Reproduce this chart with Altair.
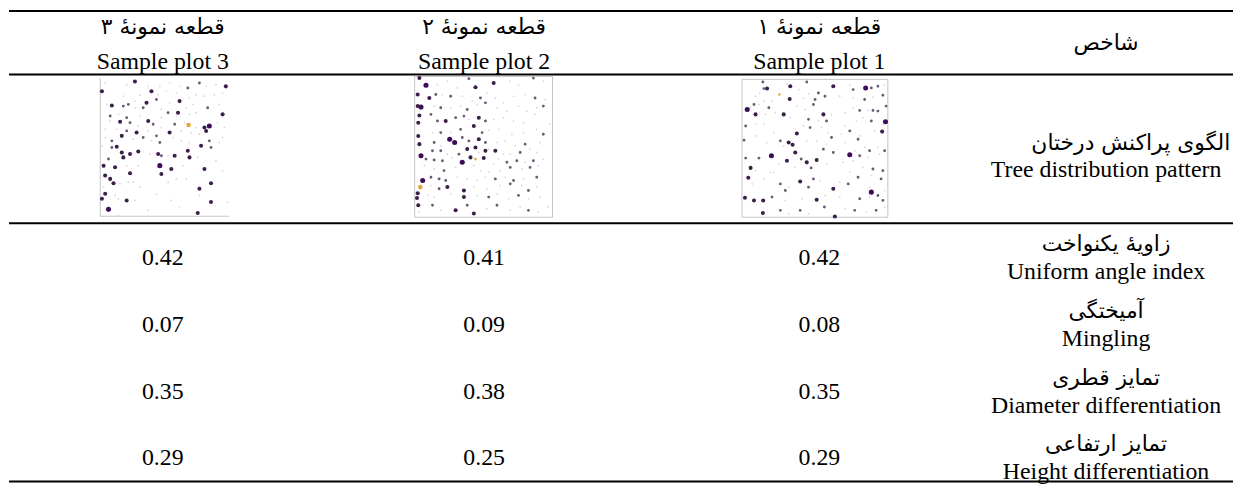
import altair as alt
import numpy as np
import pandas as pd

# ---------------- table content ----------------
header_fa = ["قطعه نمونهٔ ۳", "قطعه نمونهٔ ۲", "قطعه نمونهٔ ۱"]
header_en = ["Sample plot 3", "Sample plot 2", "Sample plot 1"]
index_head_fa = "شاخص"
pattern_fa = "الگوی پراکنش درختان"
pattern_en = "Tree distribution pattern"
index_fa = ["زاویهٔ یکنواخت", "آمیختگی", "تمایز قطری", "تمایز ارتفاعی"]
index_en = ["Uniform angle index", "Mingling", "Diameter differentiation", "Height differentiation"]
values_plot3 = [0.42, 0.07, 0.35, 0.29]
values_plot2 = [0.41, 0.09, 0.38, 0.25]
values_plot1 = [0.42, 0.08, 0.35, 0.29]

# ---------------- stem maps: x, y (m) and size class ----------------
# classes: s small, m medium, d large, L very large; q/O = other species
# Sample plot 3
p3_x = [3.8, 20.5, 26.9, 37.2, 46.2, 53.8, 61.5, 67.9, 76.9, 82.1, 89.7, 97.4,
        1.3, 17.9, 30.8, 39.7, 44.9, 51.3, 59.0, 69.2, 74.4, 80.8, 88.5, 94.9,
        21.8, 26.9, 35.9, 43.6, 53.8, 61.5, 71.8, 92.3, 5.1, 9.0,
        17.9, 26.9, 33.3, 47.4, 52.6, 60.3, 66.7, 74.4, 83.3, 94.9,
        7.7, 14.1, 20.5, 30.8, 37.2, 47.4, 59.0, 69.2,
        7.7, 15.4, 23.1, 29.5, 41.0, 47.4, 57.7, 65.4, 68.5, 74.4, 80.8, 84.6, 91.0, 96.2,
        3.8, 12.8, 20.5, 28.2, 37.2, 43.6, 53.8, 62.8, 70.5, 76.9, 82.1, 94.9,
        3.8, 9.0, 16.7, 25.6, 33.3, 39.7, 46.2, 56.4, 62.8, 69.2, 84.6, 92.3,
        1.3, 9.0, 12.8, 16.7, 23.1, 29.5, 17.9, 6.4, 2.6, 11.5,
        20.5, 29.5, 38.5, 44.9, 47.4, 52.6, 57.7, 67.9, 69.2, 78.2,
        85.9, 75.6, 46.2, 55.1, 64.1, 80.8, 89.7, 94.9,
        3.8, 7.7, 10.3, 15.4, 23.1, 21.8, 25.6, 30.8, 47.4, 52.6,
        59.0, 66.7, 76.9, 85.9, 2.6, 3.8, 11.5, 14.1, 20.5, 26.9,
        43.6, 55.1, 61.5, 76.9, 85.9, 98.7, 1.3, 6.4, 14.1, 37.2, 75.6]
p3_y = [96.6, 95.4, 97.8, 94.2, 94.2, 96.6, 94.2, 93.0, 96.6, 94.2, 95.4, 94.2,
        90.6, 87.1, 87.8, 90.6, 88.2, 90.6, 89.4, 85.9, 88.2, 87.1, 88.2, 89.4,
        81.1, 83.5, 82.3, 84.7, 82.3, 83.5, 81.1, 81.1, 81.1, 80.3,
        79.9, 78.7, 78.7, 77.5, 75.1, 75.1, 78.7, 75.1, 78.7, 73.9,
        72.7, 73.9, 71.5, 72.7, 69.1, 71.5, 72.7, 73.9,
        69.1, 68.6, 67.9, 65.5, 66.7, 64.3, 66.7, 67.9, 66.2, 64.3, 64.3, 65.5, 67.9, 64.3,
        63.1, 63.1, 61.9, 60.7, 61.9, 58.3, 60.7, 61.9, 60.7, 59.5, 61.9, 57.1,
        57.1, 54.7, 58.3, 55.9, 57.1, 54.7, 53.5, 57.1, 54.7, 53.5, 54.7, 53.5,
        51.1, 49.9, 50.4, 46.3, 45.1, 47.0, 42.7, 41.5, 36.7, 35.5,
        36.7, 36.7, 45.1, 45.1, 43.9, 43.9, 43.9, 47.5, 42.7, 51.1,
        49.9, 42.7, 36.7, 34.3, 36.7, 34.3, 40.3, 33.1,
        29.5, 27.1, 24.0, 23.5, 31.2, 24.7, 24.7, 21.1, 30.7, 24.7,
        27.1, 27.1, 19.9, 24.0, 21.1, 16.3, 15.1, 12.7, 11.5, 11.5,
        16.3, 11.5, 6.7, 15.1, 10.3, 10.3, 12.7, 5.0, 0.7, 4.3, 2.4]
p3_c = list("ssdssssmmssd" "dssdssssssss" "msdmsdsssd" "msmsmdssmd" "msmsdsss"
            "sdmsmsmsOsdLss" "ssmdsmdsssds" "smdsmsmsssms"
            "smdddddmdd" "sssdmsdddd" "msLdsdss" "dddsdsssds" "ssddsdssds" "ssssdsdLssd")

# Sample plot 2
p2_x = [3.4, 8.2, 2.2, 10.6, 4.6, 2.2, 3.4, 2.6, 2.6, 3.4, 4.6, 5.8, 4.1, 2.2, 1.7, 2.6, 3.4,
        16.5, 23.7, 30.9, 39.3, 44.1, 57.3, 69.3, 75.3, 86.1, 93.3,
        15.3, 20.1, 26.1, 34.5, 41.7, 47.7, 52.5, 58.5, 64.5, 71.7,
        80.1, 87.3, 94.5, 14.1, 18.9, 26.1, 33.3, 38.1, 45.3, 51.3,
        59.7, 66.9, 75.3, 81.3, 88.5, 93.3, 11.8, 16.5, 22.5, 29.7,
        35.7, 39.3, 46.5, 51.3, 57.3, 64.5, 71.7, 78.9, 87.3, 98.1,
        12.9, 18.9, 26.1, 33.3, 42.9, 48.9, 53.7, 60.9, 70.5, 78.9,
        88.5, 93.3, 25.4, 29.0, 14.1, 18.9, 34.5, 39.3, 46.5, 51.3,
        59.7, 65.7, 72.9, 80.1, 90.9, 12.9, 18.9, 23.7, 32.1, 38.1,
        44.1, 46.5, 51.3, 53.7, 58.5, 64.5, 69.3, 76.5, 83.7, 88.5,
        8.2, 14.1, 20.1, 27.3, 40.5, 44.1, 50.1, 57.3, 60.9, 66.9,
        74.1, 80.1, 86.1, 93.3, 7.0, 14.1, 21.3, 29.7, 34.5, 42.9,
        47.7, 53.7, 62.1, 69.3, 77.7, 83.7, 89.7, 11.8, 17.7, 22.5,
        30.9, 38.1, 45.3, 51.3, 58.5, 65.7, 71.7, 78.9, 88.5, 11.8,
        17.7, 23.7, 35.7, 42.9, 52.5, 62.1, 69.3, 77.7, 82.5, 88.5,
        9.4, 14.1, 26.1, 35.7, 45.3, 53.7, 59.7, 68.1, 75.3, 82.5,
        90.9, 12.9, 18.9, 29.7, 38.1, 42.9, 52.5, 59.7, 69.3, 76.5,
        82.5, 89.7, 96.9]
p2_y = [98.8, 93.7, 87.1, 84.7, 78.2, 78.9, 72.3, 67.1, 57.7, 51.9, 43.7, 26.1, 21.4, 17.1, 13.6, 8.5, 3.8,
        94.1, 96.5, 91.8, 98.4, 92.3, 95.3, 96.5, 94.1, 98.8, 96.5,
        87.1, 87.1, 85.9, 85.9, 82.4, 84.7, 88.3, 84.7, 81.2, 85.9,
        87.1, 84.7, 83.6, 78.9, 77.7, 77.7, 78.9, 76.5, 80.0, 81.2,
        77.7, 75.4, 78.9, 75.4, 77.7, 78.9, 73.0, 68.3, 68.3, 70.7,
        71.8, 69.5, 70.7, 68.3, 69.5, 70.7, 68.3, 67.1, 73.0, 66.0,
        60.1, 60.1, 60.1, 62.4, 64.8, 60.1, 61.7, 62.4, 58.9, 60.1,
        62.4, 58.9, 55.4, 53.1, 53.1, 50.7, 56.6, 54.2, 55.4, 53.1,
        53.1, 54.2, 50.7, 51.9, 53.1, 47.2, 47.2, 44.8, 44.8, 48.4,
        49.5, 46.0, 47.2, 48.4, 47.2, 44.8, 44.8, 46.0, 48.4, 46.0,
        41.3, 40.6, 40.1, 42.0, 42.5, 41.3, 42.0, 37.8, 41.3, 39.0,
        40.1, 39.0, 40.1, 41.3, 36.6, 34.3, 33.1, 35.4, 39.0, 36.6,
        33.1, 31.9, 33.1, 35.4, 34.3, 35.4, 36.6, 28.4, 27.2, 26.1,
        28.4, 27.2, 26.1, 28.4, 27.2, 28.4, 26.1, 27.2, 28.4, 22.5,
        20.2, 21.4, 19.0, 21.4, 20.2, 22.5, 23.7, 22.5, 19.0, 21.4,
        15.5, 14.3, 16.7, 14.3, 15.5, 14.3, 16.7, 13.1, 15.5, 13.1,
        14.3, 8.5, 4.9, 4.9, 8.5, 2.6, 6.1, 8.5, 4.9, 7.3,
        4.9, 3.8, 7.3]
p2_c = list("dLddLdddddLLOddds"
            "sssmddssms" "msmssmssss" "smssmssmsm" "sssssmmmdm" "msdmssssss"
            "smsmdmssss" "smLLmsmmdm" "sssmsmmsmd" "dsdsdssmss" "mmmsdqdssm"
            "msmsssmsLs" "sssmsmsmmm" "ssssmsmsms" "mddsssmsms" "sssdsmssms"
            "smsdmdsmss" "mss")

# Sample plot 1
p1_x = [14.3, 17.2, 15.0, 12.0, 9.3, 30.8, 33.1, 38.8, 44.4, 25.6,
        32.7, 42.2, 50.1, 45.6, 52.4, 56.9, 62.6, 3.6, 5.9, 8.2,
        11.6, 15.0, 18.4, 20.6, 9.3, 16.1, 22.9, 28.6, 37.6, 43.3,
        49.0, 55.8, 61.4, 45.6, 52.4, 58.0, 2.5, 9.3, 15.0, 37.6,
        33.1, 42.2, 46.7, 54.6, 59.2, 61.4, 1.4, 9.3, 21.8, 26.3,
        28.6, 32.0, 34.7, 36.5, 17.2, 44.4, 51.2, 58.0, 55.8, 20.2,
        2.5, 11.6, 30.8, 40.6, 44.4, 51.2, 62.6, 5.9, 9.3, 19.5,
        21.8, 25.2, 36.5, 47.4, 58.0, 4.3, 7.0, 15.0, 26.3, 39.9,
        49.0, 53.5, 45.6, 32.0, 29.7, 62.6, 2.0, 8.2, 14.5, 20.6,
        29.7, 41.0, 51.2, 56.9, 14.3, 26.3, 32.0, 39.9, 45.6, 56.5, 63.7,
        73.9, 76.2, 84.8, 88.7, 93.2, 97.8, 67.1, 76.2, 84.1, 89.8,
        96.6, 98.8, 70.5, 76.2, 80.7, 86.4, 89.8, 93.2, 70.5, 78.4,
        83.0, 88.7, 98.4, 96.6, 68.2, 73.9, 80.7, 90.9, 96.1, 70.5,
        79.6, 84.1, 87.5, 93.2, 73.9, 77.3, 80.7, 86.4, 94.4, 97.8,
        69.4, 76.2, 83.0, 89.8, 96.6, 73.9, 79.6, 88.7, 95.4, 67.1,
        72.8, 87.5, 88.7, 93.2, 97.8, 67.1, 80.7, 87.5, 96.6, 70.5,
        77.3, 85.3, 92.0, 97.8]
p1_y = [98.1, 93.3, 93.3, 90.1, 87.8, 96.6, 95.0, 92.6, 98.1, 89.0,
        85.8, 86.5, 85.4, 89.4, 90.1, 87.8, 95.0, 78.2, 79.4, 81.8,
        81.8, 84.2, 79.4, 84.2, 74.6, 74.6, 75.8, 74.6, 80.6, 78.2,
        81.8, 74.6, 74.6, 71.0, 69.8, 69.8, 66.2, 67.4, 67.9, 60.7,
        72.2, 66.2, 65.0, 65.0, 61.4, 57.8, 55.9, 59.0, 61.4, 55.4,
        51.8, 54.2, 52.5, 47.0, 54.2, 55.4, 55.4, 53.0, 49.4, 44.6,
        42.9, 42.9, 41.0, 42.2, 39.8, 41.5, 47.0, 35.8, 33.8, 32.6,
        32.6, 38.6, 36.2, 35.8, 38.6, 28.6, 24.2, 27.8, 24.2, 25.9,
        27.8, 26.6, 21.8, 21.8, 19.4, 20.6, 14.2, 12.2, 12.2, 14.6,
        12.2, 13.4, 12.7, 15.8, 3.1, 5.0, 2.6, 5.0, 2.6, 7.4, 0.5,
        95.7, 92.6, 93.8, 93.8, 95.0, 95.7, 87.8, 86.5, 85.4, 87.1,
        88.5, 80.6, 75.8, 79.4, 77.5, 77.5, 77.5, 77.0, 66.2, 69.8,
        72.2, 69.8, 69.3, 67.4, 60.2, 62.6, 59.0, 62.6, 62.1, 54.2,
        56.6, 50.6, 48.2, 50.6, 45.3, 48.2, 44.6, 43.4, 45.8, 48.2,
        39.8, 41.0, 36.2, 35.0, 33.8, 32.6, 29.0, 30.2, 27.8, 25.4,
        24.2, 21.8, 18.2, 15.8, 19.4, 14.6, 13.4, 14.6, 12.2, 6.3,
        5.0, 3.8, 5.0, 7.4]
p1_c = list("mdmsssdsmq" "dsmsmmdLsm" "ssmsdssdss" "mdsmsmmssd" "ssmssmmssm"
            "sdddssssmL" "mmdmddmdss" "sssmsdssmd" "msmsmddddm" "ssdsdmsmsmd"
            "smLmmsssms" "mmssmsmmss" "smLssmssds" "msmsLsmssm" "sssmmsmsms"
            "msLmssmsms" "msms")

# ---------------- layout (reference pixels) ----------------
W, H = 1234, 477
# reference y -> chart y: exact (offset by the 8px page margin) in the middle,
# squeezed only in the thin bands above the first text line and below the last
Y_DOM = [3, 15, 474, 492]
Y_RNG = [0, 7, 466, 476.5]


def ty(r):
    return float(np.interp(r, Y_DOM, Y_RNG))


col_x = [163 - 8, 487 - 8, 825 - 8, 1114 - 8]
plots = [  # (x0, x1, y0, y1) of each stem map, reference pixels
    (100, 230, 77, 216),
    (417, 556, 75, 217),
    (747, 894, 78, 217),
]
rule_y = [5, 73, 223, 490]
row_c = [258, 326, 393, 460]

YS = alt.Scale(domain=Y_DOM, range=Y_RNG)
XS = alt.Scale(domain=[0, 1, 2, 3], range=col_x)

SERIF = "Liberation Serif, Times New Roman, serif"
ARABIC = "DejaVu Sans"

# ---- texts ----
en_rows, fa_rows = [], []
for i in range(3):
    fa_rows.append({"c": i, "y": 25, "t": header_fa[i]})
    en_rows.append({"c": i, "y": 61, "t": header_en[i]})
fa_rows.append({"c": 3, "y": 41, "t": index_head_fa})
fa_rows.append({"c": 3.08, "y": 142, "t": pattern_fa})
en_rows.append({"c": 3, "y": 169, "t": pattern_en})
for r in range(4):
    fa_rows.append({"c": 3, "y": row_c[r] - 14, "t": index_fa[r]})
    en_rows.append({"c": 3, "y": row_c[r] + 14, "t": index_en[r]})
    for i, vals in enumerate([values_plot3, values_plot2, values_plot1]):
        en_rows.append({"c": i, "y": row_c[r], "t": f"{vals[r]:.2f}"})

XS_T = alt.Scale(domain=[0, 1, 2, 3, 4], range=col_x + [col_x[3] + 312])

en_layer = alt.Chart(pd.DataFrame(en_rows)).mark_text(
    font=SERIF, fontSize=24, color="black", baseline="middle", align="center"
).encode(
    x=alt.X("c:Q", scale=XS_T, axis=None),
    y=alt.Y("y:Q", scale=YS, axis=None),
    text="t:N",
)
fa_layer = alt.Chart(pd.DataFrame(fa_rows)).mark_text(
    font=ARABIC, fontSize=22, color="black", baseline="middle", align="center"
).encode(
    x=alt.X("c:Q", scale=XS_T, axis=None),
    y=alt.Y("y:Q", scale=YS, axis=None),
    text="t:N",
)

rules = alt.Chart(pd.DataFrame({"y": rule_y})).mark_rule(color="black", strokeWidth=2).encode(
    y=alt.Y("y:Q", scale=YS, axis=None),
    x=alt.value(0),
    x2=alt.value(W),
)

CLS = {"s": (8, "A"), "m": (16, "A"), "d": (28, "A"), "L": (42, "A"),
       "q": (14, "B"), "O": (36, "B")}


def stem_map(xs, ys, cs, box, full_frame):
    assert len(xs) == len(ys) == len(cs), (len(xs), len(ys), len(cs))
    x0, x1, y0, y1 = box
    df = pd.DataFrame({
        "x": xs, "y": ys,
        "dbh": [CLS[c][0] for c in cs],
        "sp": [CLS[c][1] for c in cs],
    })
    sx = alt.Scale(domain=[0, 100], range=[x0 - 8, x1 - 8], nice=False, zero=False)
    sy = alt.Scale(domain=[0, 100], range=[ty(y1), ty(y0)], nice=False, zero=False)
    frame_df = pd.DataFrame({"a": [0], "b": [100], "c": [0], "d": [100]})
    if full_frame:
        frames = [alt.Chart(frame_df).mark_rect(fillOpacity=0, stroke="#c4c4c4", strokeWidth=1).encode(
            x=alt.X("a:Q", scale=sx, axis=None), x2="b:Q",
            y=alt.Y("c:Q", scale=sy, axis=None), y2="d:Q",
        )]
    else:
        left = alt.Chart(frame_df).mark_rule(color="#c4c4c4", strokeWidth=1).encode(
            x=alt.X("a:Q", scale=sx, axis=None),
            y=alt.Y("c:Q", scale=sy, axis=None), y2="d:Q",
        )
        bottom = alt.Chart(frame_df).mark_rule(color="#c4c4c4", strokeWidth=1).encode(
            x=alt.X("a:Q", scale=sx, axis=None), x2="b:Q",
            y=alt.Y("c:Q", scale=sy, axis=None),
        )
        frames = [left, bottom]
    pts = alt.Chart(df).mark_circle(opacity=1).encode(
        x=alt.X("x:Q", scale=sx, axis=None),
        y=alt.Y("y:Q", scale=sy, axis=None),
        size=alt.Size("dbh:Q", scale=alt.Scale(domain=[8, 42], range=[3, 26]), legend=None),
        color=alt.condition(
            "datum.sp == 'B'",
            alt.value("#e2a640"),
            alt.Color("dbh:Q", scale=alt.Scale(domain=[8, 16, 28, 42],
                                               range=["#d8d2dc", "#6a5a74", "#3c1f48", "#3d0c58"]),
                      legend=None),
        ),
    )
    return frames + [pts]


layers = [rules, en_layer, fa_layer]
layers += stem_map(p3_x, p3_y, p3_c, plots[0], False)
layers += stem_map(p2_x, p2_y, p2_c, plots[1], True)
layers += stem_map(p1_x, p1_y, p1_c, plots[2], True)

chart = alt.layer(*layers).resolve_scale(
    x="independent", y="independent", color="independent", size="independent"
).properties(width=W, height=H, padding=0).configure_view(stroke=None)

chart.save("out.html", embed_options={"renderer": "svg", "actions": False})
